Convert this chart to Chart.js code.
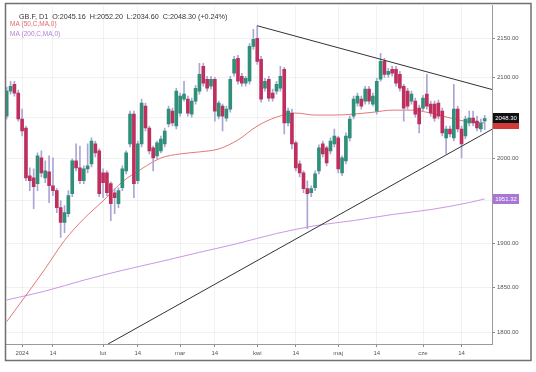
<!DOCTYPE html>
<html>
<head>
<meta charset="utf-8">
<script src="https://cdn.jsdelivr.net/npm/chart.js@4.4.0/dist/chart.umd.min.js"></script>
<style>
body { margin: 0; background: #fff; }
#wrap { width: 536px; height: 372px; }
</style>
</head>
<body>
<div id="wrap"><canvas id="chart" width="536" height="372"></canvas></div>
<script>
// daily candles, oldest first (index 0 = first visible bar)
var opens = [2051.2,2082.3,2091.0,2079.8,2047.6,2036.6,1978.7,1976.3,1969.3,2000.2,
	1976.3,1983.4,1966.9,1961.0,1941.1,1923.7,1934.1,1957.5,1996.6,1988.2,
	1972.8,1987.0,1993.0,2017.1,2008.6,1982.2,1982.2,1969.3,1958.6,1945.7,
	1964.5,1984.6,2017.1,2053.7,1972.8,2017.1,2063.6,2036.6,2012.2,2002.6,
	2008.6,2017.1,2041.5,2057.4,2039.0,2054.9,2072.3,2072.3,2053.7,2069.8,
	2082.3,2113.8,2097.3,2088.5,2097.3,2051.2,2063.6,2048.8,2059.9,2104.9,
	2124.0,2101.1,2092.3,2094.8,2139.3,2149.7,2122.7,2086.0,2097.3,2079.8,
	2082.3,2086.0,2110.0,2042.7,2054.9,2018.3,1993.0,1982.2,1963.4,1958.6,
	1964.5,1984.6,2017.1,2012.2,2008.6,2017.1,2024.4,1982.2,1996.6,2024.4,
	2051.2,2067.3,2072.3,2069.8,2084.8,2066.1,2057.4,2097.3,2120.1,2103.6,
	2110.0,2110.0,2103.6,2088.5,2082.3,2069.8,2069.8,2061.1,2061.1,2078.6,
	2066.1,2066.1,2067.3,2057.4,2024.4,2035.3,2024.4,2059.9,2035.3,2026.8,
	2042.7,2048.8,2045.1,2035.3,2045.16];
var highs = [2087.3,2094.8,2094.8,2083.6,2059.9,2039.0,1988.2,1987.0,2006.2,2008.6,
	1996.6,2002.6,2000.2,1963.4,1949.2,1943.4,1961.0,1999.0,2017.1,2014.6,
	1990.6,2017.1,2024.4,2020.7,2011.0,1987.0,1984.6,1971.6,1963.4,1964.5,
	1990.6,2008.6,2057.4,2057.4,2020.7,2072.3,2067.3,2039.0,2014.6,2020.7,
	2026.8,2036.6,2063.6,2061.1,2086.0,2079.8,2094.8,2076.0,2073.5,2089.8,
	2117.6,2117.6,2101.1,2101.1,2099.8,2069.8,2066.1,2063.6,2101.1,2126.5,
	2127.8,2104.9,2101.1,2143.1,2161.3,2166.0,2126.5,2098.6,2101.1,2084.8,
	2094.8,2113.8,2112.5,2061.1,2059.9,2020.7,1996.6,1984.6,1972.8,1966.9,
	1984.6,2015.9,2020.7,2014.6,2024.4,2035.3,2026.8,2002.6,2030.5,2051.2,
	2076.0,2079.8,2076.0,2088.5,2088.5,2079.8,2098.6,2130.3,2124.0,2111.2,
	2113.8,2113.8,2107.4,2091.0,2086.0,2082.3,2073.5,2064.8,2077.2,2103.6,
	2069.8,2069.8,2071.1,2061.1,2039.0,2039.0,2091.0,2063.6,2039.0,2051.2,
	2057.4,2057.4,2051.2,2047.6,2052.20];
var lows = [2047.6,2078.6,2076.0,2045.1,2026.8,1972.8,1961.0,1939.9,1961.0,1977.5,
	1970.4,1946.9,1955.1,1935.3,1906.4,1912.1,1930.6,1953.9,1984.6,1969.3,
	1969.3,1982.2,1989.4,2001.4,1953.9,1952.7,1955.1,1926.0,1934.1,1941.1,
	1961.0,1981.0,2013.4,1952.7,1969.3,2013.4,2032.9,2005.0,1984.6,1999.0,
	2006.2,2013.4,2037.8,2039.0,2035.3,2051.2,2069.8,2051.2,2050.0,2066.1,
	2078.6,2088.5,2082.3,2084.8,2045.1,2047.6,2032.9,2045.1,2056.2,2101.1,
	2091.0,2088.5,2088.5,2091.0,2135.5,2116.3,2068.6,2082.3,2069.8,2069.8,
	2078.6,2082.3,2029.3,2039.0,2011.0,1984.6,1977.5,1958.6,1916.7,1953.9,
	1961.0,1981.0,2001.4,1990.6,2005.0,2013.4,1982.2,1978.7,1993.0,2020.7,
	2047.6,2063.6,2059.9,2066.1,2066.1,2063.6,2053.7,2094.8,2099.8,2099.8,
	2101.1,2088.5,2082.3,2045.1,2059.9,2066.1,2050.0,2030.5,2057.4,2059.9,
	2051.2,2045.1,2047.6,2026.8,2005.0,2025.6,2020.7,2031.7,2000.2,2023.1,
	2039.0,2039.0,2032.9,2031.7,2034.60];
var closes = [2082.3,2088.5,2079.8,2047.6,2032.9,1976.3,1972.8,1965.7,2002.6,1982.2,
	1984.6,1966.9,1961.0,1941.1,1923.7,1935.3,1955.1,1996.6,1988.2,1972.8,
	1987.0,1990.6,2020.7,2006.2,1957.5,1970.4,1958.6,1945.7,1952.7,1961.0,
	1987.0,2006.2,2053.7,1969.3,2017.1,2067.3,2036.6,2008.6,2000.2,2018.3,
	2023.1,2032.9,2059.9,2042.7,2082.3,2076.0,2078.6,2054.9,2069.8,2086.0,
	2103.6,2092.3,2086.0,2097.3,2057.4,2067.3,2051.2,2059.9,2097.3,2122.7,
	2094.8,2092.3,2098.6,2139.3,2148.4,2120.1,2072.3,2094.8,2073.5,2073.5,
	2091.0,2101.1,2042.7,2057.4,2017.1,1988.2,1982.2,1963.4,1957.5,1963.4,
	1981.0,2012.2,2005.0,1994.2,2020.7,2026.8,1987.0,2000.2,2026.8,2047.6,
	2072.3,2076.0,2063.6,2084.8,2069.8,2076.0,2094.8,2120.1,2103.6,2107.4,
	2104.9,2092.3,2086.0,2061.1,2063.6,2078.6,2053.7,2041.5,2073.5,2063.6,
	2054.9,2048.8,2051.2,2030.5,2035.3,2029.3,2059.9,2035.3,2017.1,2047.6,
	2048.8,2042.7,2036.6,2042.7,2048.30];

// moving averages at a few bars
var ma50Idx = [0,5,10,15,20,25,30,35,40,45,50,55,60,65,70,75,80,85,90,95,100,105,110,115,120,124];
var ma50 = [1812,1841,1871,1903,1928,1949,1971.5,1987,2000,2005,2007.4,2011,2022,2039,2050,2055,2052.5,2052.5,2053.7,2056,2058.6,2058.6,2055,2049,2044,2043];
var ma200Idx = [0,10,20,30,40,50,60,70,80,90,100,110,120,124];
var ma200 = [1835.9,1845.8,1858,1869,1879,1889.4,1899.6,1911,1920,1926,1933,1938.8,1947,1951.32];

// trend lines (bar index, price)
var upperLine = [[65, 2166.1], [125.9, 2084.4]];
var lowerLine = [[26.3, 1787.8], [125.9, 2035.0]];

// axes
var xTickPos = [4, 12, 25, 34, 45, 54, 65, 75, 86, 96, 108, 118];
var xTickLabels = ["2024", "14", "lut", "14", "mar", "14", "kwi", "14", "maj", "14", "cze", "14"];
var yTicks = [1800, 1850, 1900, 1950, 2000, 2050, 2100, 2150];
var yMin = 1787.8, yMax = 2192.6;
var xMin = -0.44, xMax = 125.9;

var header = "GB.F, D1  O:2045.16  H:2052.20  L:2034.60  C:2048.30 (+0.24%)";

var BULL = "#2f8f78", BEAR = "#bf2f5e", WICK = "#a9a6d6";
var FONT = "'Liberation Sans', Arial, sans-serif";

function pts(idx, vals) {
	var out = [];
	for (var i = 0; i < idx.length; i++) out.push({x: idx[i], y: vals[i]});
	return out;
}

var bodies = [], wicks = [], bodyColors = [];
for (var i = 0; i < opens.length; i++) {
	bodies.push({x: i, y: [opens[i], closes[i]]});
	wicks.push({x: i, y: [lows[i], highs[i]]});
	bodyColors.push(closes[i] >= opens[i] ? BULL : BEAR);
}

function tag(ctx, x, y, h, bg, txt) {
	var top = Math.round(y - h / 2);
	ctx.fillStyle = bg;
	ctx.fillRect(x, top, 26, h);
	if (!txt) return;
	ctx.fillStyle = "#fff";
	ctx.textAlign = "center";
	ctx.textBaseline = "middle";
	ctx.fillText(txt, x + 13, top + h / 2 + 0.5);
}

var extras = {
	id: "extras",
	afterDraw: function(chart) {
		var ctx = chart.ctx;
		var ys = chart.scales.y;
		var area = chart.chartArea;
		ctx.save();
		// outer frame
		ctx.strokeStyle = "#707070";
		ctx.lineWidth = 1.5;
		ctx.strokeRect(5.5, 3.5, 525.5, 357);
		// header + legend
		ctx.textAlign = "left";
		ctx.textBaseline = "middle";
		ctx.font = "7.2px " + FONT;
		ctx.fillStyle = "#333";
		ctx.fillText(header, 19, 17);
		ctx.font = "6.5px " + FONT;
		ctx.fillStyle = "#e06a6a";
		ctx.fillText("MA (50,C,MA,0)", 10, 24.5);
		ctx.fillStyle = "#b27fd4";
		ctx.fillText("MA (200,C,MA,0)", 10, 34);
		// last value tags (MA50 tag sits mostly behind the price tag)
		ctx.font = "6px " + FONT;
		var tx = area.right + 1;
		tag(ctx, tx, ys.getPixelForValue(ma50[ma50.length - 1]) + 1, 10, "#d23a3a", "");
		tag(ctx, tx, ys.getPixelForValue(closes[closes.length - 1]), 10, "#111", closes[closes.length - 1].toFixed(2));
		tag(ctx, tx, ys.getPixelForValue(ma200[ma200.length - 1]), 10, "#a877d6", ma200[ma200.length - 1].toFixed(2));
		ctx.restore();
	}
};

var ctx = document.getElementById("chart").getContext("2d");
new Chart(ctx, {
	type: "bar",
	data: {
		datasets: [
			{type: "line", data: pts([upperLine[0][0], upperLine[1][0]], [upperLine[0][1], upperLine[1][1]]), borderColor: "#333", borderWidth: 1, pointRadius: 0, order: 0},
			{type: "line", data: pts([lowerLine[0][0], lowerLine[1][0]], [lowerLine[0][1], lowerLine[1][1]]), borderColor: "#333", borderWidth: 1, pointRadius: 0, order: 0},
			{data: bodies, backgroundColor: bodyColors, barThickness: 3, grouped: false, order: 1},
			{data: wicks, backgroundColor: WICK, barThickness: 1, grouped: false, order: 2},
			{type: "line", data: pts(ma50Idx, ma50), borderColor: "rgba(222,96,96,0.85)", borderWidth: 1, pointRadius: 0, tension: 0.4, cubicInterpolationMode: "monotone", order: 3},
			{type: "line", data: pts(ma200Idx, ma200), borderColor: "rgba(196,140,226,0.9)", borderWidth: 1, pointRadius: 0, tension: 0.4, cubicInterpolationMode: "monotone", order: 3}
		]
	},
	options: {
		responsive: false,
		animation: false,
		devicePixelRatio: 1,
		layout: {padding: {left: 5, right: 5, top: 4, bottom: 12}},
		plugins: {legend: {display: false}, tooltip: {enabled: false}},
		scales: {
			x: {
				type: "linear",
				min: xMin,
				max: xMax,
				offset: false,
				afterBuildTicks: function(scale) {
					scale.ticks = xTickPos.map(function(v) { return {value: v}; });
				},
				afterFit: function(scale) { scale.height = 16; },
				grid: {color: "rgba(0,0,0,0.05)", tickColor: "#888", tickLength: 3, offset: false},
				border: {color: "#9a9a9a"},
				ticks: {
					autoSkip: false, maxRotation: 0, padding: 3, color: "#555",
					font: {size: 6, family: FONT},
					callback: function(v, i) { return xTickLabels[i]; }
				}
			},
			y: {
				type: "logarithmic",
				position: "right",
				min: yMin,
				max: yMax,
				afterBuildTicks: function(scale) {
					scale.ticks = yTicks.map(function(v) { return {value: v}; });
				},
				afterFit: function(scale) { scale.width = 39; },
				grid: {color: "rgba(0,0,0,0.05)", tickColor: "#888", tickLength: 3},
				border: {color: "#9a9a9a"},
				ticks: {
					autoSkip: false, padding: 2, color: "#555",
					font: {size: 6, family: FONT},
					callback: function(v) { return (v == 2050 || v == 1950) ? "" : v.toFixed(2); }
				}
			}
		}
	},
	plugins: [extras]
});
</script>
</body>
</html>
